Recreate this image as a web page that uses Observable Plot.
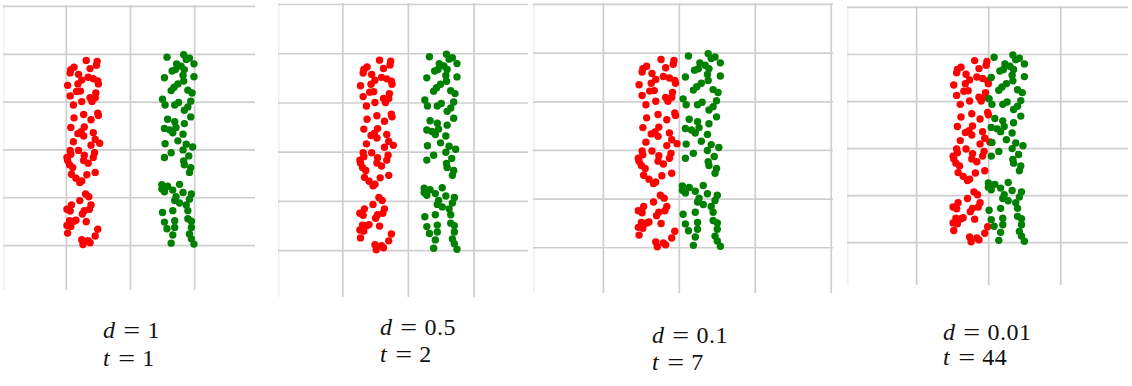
<!DOCTYPE html>
<html>
<head>
<meta charset="utf-8">
<script src="https://cdn.jsdelivr.net/npm/d3@7"></script>
<script src="https://cdn.jsdelivr.net/npm/@observablehq/plot@0.6"></script>
<style>
  html, body { margin: 0; padding: 0; background: #fff; }
  #root { position: relative; width: 1132px; height: 386px; overflow: hidden; }
  .panel { position: absolute; }
  .label { position: absolute; font-family: "Liberation Serif", "Times New Roman", "DejaVu Serif", serif; font-size: 24px; color: #111; line-height: 26px; white-space: nowrap; }
  .label i { font-style: italic; }
  .label .eq { display: inline-block; margin: 0 9px 0 10px; transform: scaleX(1.25); }
  .label .num { letter-spacing: 0.5px; }
</style>
</head>
<body>
<div id="root"></div>
<script>
// ---- data ----
// red class: x (before offset), y
const redX = [0.30,0.47,0.46,0.11,0.06,0.05,0.36,0.18,0.33,0.41,0.48,0.49,0.23,0.17,0.01,0.21,0.15,0.45,0.36,0.44,
  0.05,0.23,0.39,0.10,0.48,0.49,0.26,0.11,0.375,0.06,0.27,0.22,0.17,0.41,0.26,0.44,0.51,0.375,0.10,0.18,
  0.05,0.00,0.01,0.04,0.27,0.43,0.41,0.33,0.09,0.07,0.14,0.20,0.23,0.31,0.44,0.26,0.06,0.29,0.34,0.20,
  0.375,0.07,0.00,0.05,0.27,0.35,0.24,0.14,0.04,0.11,0.30,0.00,0.06,0.48,0.01,0.44,0.23,0.33,0.25,0.36];
const redY = [3.87,3.85,3.77,3.73,3.68,3.61,3.70,3.58,3.52,3.49,3.44,3.38,3.46,3.38,3.35,3.23,3.22,3.19,3.09,3.09,
  3.13,3.01,3.01,2.94,2.77,2.72,2.74,2.67,2.63,2.47,2.48,2.38,2.34,2.36,2.29,2.22,2.14,2.10,2.17,1.99,
  1.99,1.84,1.78,1.69,1.89,1.94,1.84,1.72,1.63,1.49,1.41,1.32,1.35,1.48,1.53,1.78,1.91,1.08,1.02,0.94,
  0.85,0.85,0.76,0.72,0.73,0.76,0.66,0.53,0.52,0.51,0.50,0.42,0.40,0.34,0.26,0.20,0.12,0.10,0.02,0.06];
// green class: x (before the class gap d is added), y
const greenX = [0.56,0.82,0.91,0.86,0.98,0.71,0.78,0.64,0.69,0.83,0.81,0.98,0.52,0.82,0.73,0.67,0.625,0.885,0.95,0.49,
  0.53,0.68,0.74,0.93,0.885,0.83,0.93,0.57,0.68,0.83,0.52,0.60,0.70,0.65,0.81,0.53,0.73,0.86,0.96,0.625,
  0.52,0.81,0.90,0.82,0.93,0.91,0.83,0.48,0.57,0.755,0.52,0.48,0.65,0.81,0.94,0.70,0.68,0.755,0.91,0.86,
  0.65,0.49,0.885,0.68,0.52,0.885,0.94,0.68,0.94,0.56,0.91,0.65,0.94,0.625,0.98];
const greenY = [3.94,3.99,3.92,3.89,3.80,3.80,3.75,3.65,3.68,3.68,3.56,3.53,3.51,3.44,3.38,3.31,3.24,3.25,3.19,3.06,
  2.94,2.94,2.99,3.02,2.90,2.83,2.69,2.64,2.59,2.55,2.45,2.42,2.47,2.36,2.33,2.13,2.19,2.12,2.06,1.94,
  1.84,2.00,1.875,1.77,1.63,1.53,1.69,1.27,1.24,1.28,1.125,1.18,1.16,1.11,1.08,1.02,0.94,0.89,0.97,0.85,
  0.73,0.69,0.73,0.52,0.49,0.56,0.51,0.38,0.38,0.35,0.24,0.22,0.14,0.05,0.03];
// per-panel parameters
const dValues = [1, 0.5, 0.1, 0.01];
const dLabels = ["1", "0.5", "0.1", "0.01"];
const tLabels = ["1", "2", "7", "44"];

// ---- layout (pixels / view) ----
const boxes = [
  {left: 3,   top: 5, w: 252, h: 285, xl: -1.98, xr: 1.95, yb: -0.94, labX: 103, labY1: 331, labY2: 359},
  {left: 278, top: 3, w: 250, h: 294, xl: -1.98, xr: 1.83, yb: -0.95, labX: 380, labY1: 328, labY2: 355},
  {left: 533, top: 3, w: 300, h: 290, xl: -1.92, xr: 2.03, yb: -0.94, labX: 652, labY1: 336, labY2: 363},
  {left: 847, top: 6, w: 281, h: 279, xl: -1.96, xr: 1.94, yb: -0.91, labX: 943, labY1: 333, labY2: 358}
];

const root = document.getElementById("root");
const red = redX.map((x, i) => ({x, y: redY[i], c: "red"}));

dValues.forEach((d, k) => {
  const b = boxes[k];
  const green = greenX.map((x, i) => ({x: x + d, y: greenY[i], c: "green"}));
  const pts = red.concat(green);
  const ext = d3.extent(pts, p => p.x);
  const cx = (ext[0] + ext[1]) / 2;          // view is centred on the data
  const gx = [-2, -1, 0, 1, 2].map(o => cx + o);
  const gy = [0, 1, 2, 3, 4, 5];
  const chart = Plot.plot({
    width: b.w, height: b.h,
    margin: 0,
    x: {domain: [cx + b.xl, cx + b.xr], axis: null},
    y: {domain: [b.yb, 5.02], axis: null},
    color: {domain: ["red", "green"], range: ["#ff0000", "#008000"]},
    marks: [
      Plot.ruleX([cx + b.xl + 0.005], {stroke: "#ececec", strokeWidth: 1.2}),
      Plot.ruleX(gx.filter(v => v > cx + b.xl + 0.02 && v < cx + b.xr + 0.02), {stroke: "#cfcfcf", strokeWidth: 1.7}),
      Plot.ruleY(gy, {stroke: "#cfcfcf", strokeWidth: 1.7}),
      Plot.dot(pts, {x: "x", y: "y", fill: "c", r: 3.7, stroke: "none"})
    ]
  });
  const div = document.createElement("div");
  div.className = "panel";
  div.style.left = b.left + "px";
  div.style.top = b.top + "px";
  div.appendChild(chart);
  root.appendChild(div);

  const l1 = document.createElement("div");
  l1.className = "label";
  l1.style.left = b.labX + "px";
  l1.style.top = (b.labY1 - 14) + "px";
  l1.innerHTML = '<i>d</i><span class="eq">=</span><span class="num">' + dLabels[k] + '</span>';
  root.appendChild(l1);
  const l2 = document.createElement("div");
  l2.className = "label";
  l2.style.left = b.labX + "px";
  l2.style.top = (b.labY2 - 14) + "px";
  l2.innerHTML = '<i>t</i><span class="eq">=</span><span class="num">' + tLabels[k] + '</span>';
  root.appendChild(l2);
});
</script>
</body>
</html>
